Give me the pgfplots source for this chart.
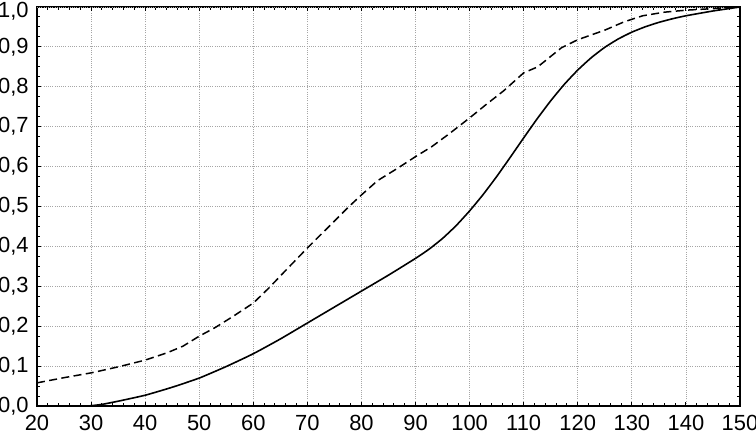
\documentclass[border=0pt]{standalone}
\usepackage{pgfplots}
\pgfplotsset{compat=1.18}
\usepackage{fontspec}
\setmainfont{Liberation Sans}
\begin{document}
\fontsize{11}{13}\selectfont
\begin{tikzpicture}
\begin{axis}[
  scale only axis,
  width=351.5bp, height=199.5bp,
  xmin=20, xmax=150, ymin=0, ymax=1,
  xtick={20,30,...,150},
  ytick={0,0.1,...,0.9},
  extra y ticks={1},
  extra y tick style={yticklabel style={yshift=-2.2bp}},
  minor xtick={20,22,...,150},
  minor ytick={0,0.025,...,1.0},
  tick align=inside,
  major tick length=2.2bp,
  minor tick length=1.6bp,
  tick style={black, line width=0.5pt},
  axis line style={black, line width=0.8pt},
  grid=major,
  major grid style={gray!70, dash pattern=on 0.5pt off 0.6pt, line width=0.4pt},
  /pgf/number format/assume math mode=true,
  yticklabel style={/pgf/number format/use comma, /pgf/number format/fixed, /pgf/number format/fixed zerofill, /pgf/number format/precision=1},
  xticklabel style={/pgf/number format/fixed, /pgf/number format/precision=0},
  every x tick label/.append style={inner sep=0pt, yshift=-4.6bp},
  every y tick label/.append style={inner sep=0pt, xshift=-4bp},
  tick label style={font=\fontsize{11}{13}\selectfont},
]
\addplot[black, line width=0.8pt, smooth, tension=0.3] coordinates {
(29.5,0) (32,0.004) (35,0.012) (40,0.027) (45,0.047) (50,0.070) (55,0.099)
(60,0.131) (65,0.168) (70,0.208) (75,0.248) (80,0.288) (85,0.328) (90,0.370)
(92.5,0.393) (95,0.420) (97.5,0.452) (100,0.489) (102.5,0.530) (105,0.575)
(107.5,0.623) (110,0.672) (112.5,0.720) (115,0.765) (117.5,0.806) (120,0.842)
(122.5,0.873) (125,0.899) (127.5,0.920) (130,0.937) (132.5,0.9505) (135,0.9615)
(137.5,0.9705) (140,0.978) (145,0.990) (150,1.0)
};
\addplot[black, line width=0.75pt, dash pattern=on 4bp off 2.2bp] coordinates {
(20,0.058) (25,0.071) (30,0.083) (35,0.098) (40,0.115) (44,0.133) (47,0.150)
(50,0.175) (53,0.197) (56.3,0.225) (60,0.258) (62.9,0.296) (66,0.340)
(70,0.396) (74,0.450) (77.7,0.500) (80,0.529) (83,0.565) (86.7,0.596)
(90,0.625) (93,0.650) (96.3,0.683) (100,0.722) (103,0.755) (106.3,0.790)
(110,0.835) (112.6,0.850) (117,0.898) (120,0.918) (125,0.942) (128.6,0.963)
(132,0.978) (136,0.987) (140,0.992) (145,0.996) (150,1.0)
};
\end{axis}
\pgfresetboundingbox
\path ([xshift=-18.5bp,yshift=3.5bp]current axis.north west) rectangle ([xshift=8bp,yshift=-14bp]current axis.south east);
\end{tikzpicture}
\end{document}
